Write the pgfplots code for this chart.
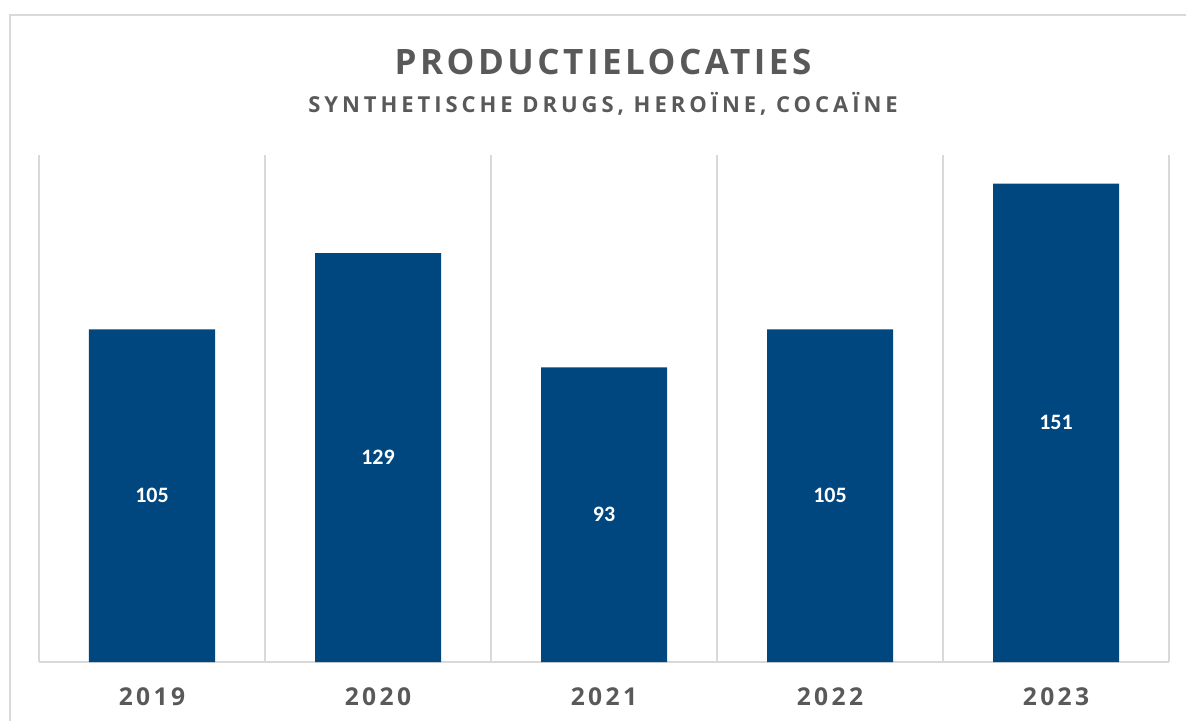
\documentclass[border=0pt]{standalone}
\usepackage{pgfplots}
\pgfplotsset{compat=1.18}
\usepackage{pgfplotstable}
\usepackage{fontspec}
\setmainfont{Open Sans}
\newfontfamily\titlefont{Open Sans}[LetterSpace=10]
\newfontfamily\subfont{Open Sans}[LetterSpace=18]
\newfontfamily\yearfont{Open Sans}[LetterSpace=14]
\newfontfamily\valfont{Carlito}

\definecolor{barblue}{HTML}{00467F}
\definecolor{txtgray}{HTML}{595959}
\definecolor{linegray}{HTML}{D9D9D9}

\pgfplotstableread{
x y
0 105
1 129
2 93
3 105
4 151
}\productie

\begin{document}
\begin{tikzpicture}
\path[use as bounding box] (0,0) rectangle (593pt,360pt);
\draw[linegray, line width=1pt] (5pt,-20pt) -- (5pt,352.5pt) -- (620pt,352.5pt);
\node[text=txtgray, font=\titlefont\bfseries\fontsize{17.5pt}{20pt}\selectfont] at (301.5pt,329pt) {PRODUCTIELOCATIES};
\node[text=txtgray, font=\subfont\bfseries\fontsize{11pt}{13pt}\selectfont] at (301.5pt,308pt) {SYNTHETISCHE DRUGS, HEROÏNE, COCAÏNE};
\begin{axis}[
    at={(19.5pt,29pt)}, anchor=south west,
    scale only axis,
    width=565pt, height=253.5pt,
    xmin=-0.5, xmax=4.5,
    ymin=0, ymax=160,
    axis x line=bottom,
    axis y line=none,
    axis line style={linegray, line width=1pt, -},
    xtick={0,1,2,3,4},
    xticklabels={2019,2020,2021,2022,2023},
    major tick length=0pt,
    minor xtick={-0.5,0.5,1.5,2.5,3.5,4.5},
    minor tick length=0pt,
    xminorgrids=true,
    minor grid style={linegray, line width=1pt},
    xticklabel style={anchor=center, yshift=-17.5pt, text=txtgray,
        font=\yearfont\bfseries\fontsize{12.3pt}{14pt}\selectfont},
    clip=false,
]
\addplot[ybar, bar width=63pt, fill=barblue, draw=none] table[x=x, y=y] {\productie};
\addplot[draw=none, mark=none,
    nodes near coords, point meta=\thisrow{y},
    nodes near coords style={anchor=center, text=white,
        font=\valfont\bfseries\fontsize{11pt}{13pt}\selectfont,
        /pgf/number format/.cd, fixed, precision=0, assume math mode=true}]
    table[x=x, y expr=\thisrow{y}/2] {\productie};
\end{axis}
\end{tikzpicture}
\end{document}
